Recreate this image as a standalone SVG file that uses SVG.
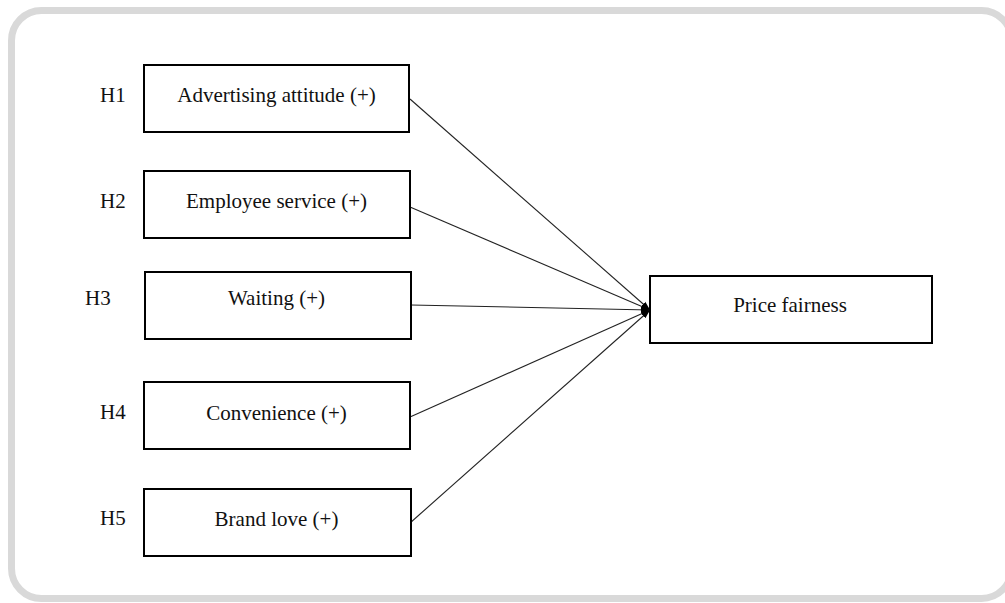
<svg xmlns="http://www.w3.org/2000/svg" width="1005" height="603" viewBox="0 0 1005 603">
<style>
.box{fill:#fff;stroke:#000;stroke-width:2}
.t{font-family:"Liberation Serif","Times New Roman",serif;font-size:21px;fill:#111}
.c{stroke:#222;stroke-width:1.1;fill:none}
</style>
<defs>
<marker id="ah" viewBox="0 0 10 10" refX="10" refY="5" markerWidth="9" markerHeight="9" markerUnits="userSpaceOnUse" orient="auto">
<path d="M0,1.5 L10,5 L0,8.5 Z" fill="#000"/>
</marker>
</defs>
<rect width="1005" height="603" fill="#fff"/>
<rect x="11.5" y="10.5" width="1000" height="588" rx="30" fill="#fff" stroke="#d9d9d9" stroke-width="7"/>
<g id="connectors">
<line class="c" x1="410" y1="99" x2="650" y2="310" marker-end="url(#ah)"/>
<line class="c" x1="410" y1="207" x2="650" y2="310" marker-end="url(#ah)"/>
<line class="c" x1="411" y1="305" x2="650" y2="310" marker-end="url(#ah)"/>
<line class="c" x1="410" y1="417" x2="650" y2="310" marker-end="url(#ah)"/>
<line class="c" x1="410" y1="523" x2="650" y2="310" marker-end="url(#ah)"/>
</g>
<g id="h1">
<text class="t" x="100" y="102">H1</text>
<rect class="box" x="144" y="65" width="265" height="67"/>
<text class="t" x="276.5" y="102" text-anchor="middle">Advertising attitude (+)</text>
</g>
<g id="h2">
<text class="t" x="100" y="208">H2</text>
<rect class="box" x="144" y="171" width="266" height="67"/>
<text class="t" x="276.5" y="208" text-anchor="middle">Employee service (+)</text>
</g>
<g id="h3">
<text class="t" x="85" y="305">H3</text>
<rect class="box" x="145" y="272" width="266" height="67"/>
<text class="t" x="276.5" y="305" text-anchor="middle">Waiting (+)</text>
</g>
<g id="h4">
<text class="t" x="100" y="419">H4</text>
<rect class="box" x="144" y="382" width="266" height="67"/>
<text class="t" x="276.5" y="420" text-anchor="middle">Convenience (+)</text>
</g>
<g id="h5">
<text class="t" x="100" y="525">H5</text>
<rect class="box" x="144" y="489" width="267" height="67"/>
<text class="t" x="276.5" y="526" text-anchor="middle">Brand love (+)</text>
</g>
<g id="price">
<rect class="box" x="650" y="276" width="282" height="67"/>
<text class="t" x="790" y="312" text-anchor="middle">Price fairness</text>
</g>
</svg>
